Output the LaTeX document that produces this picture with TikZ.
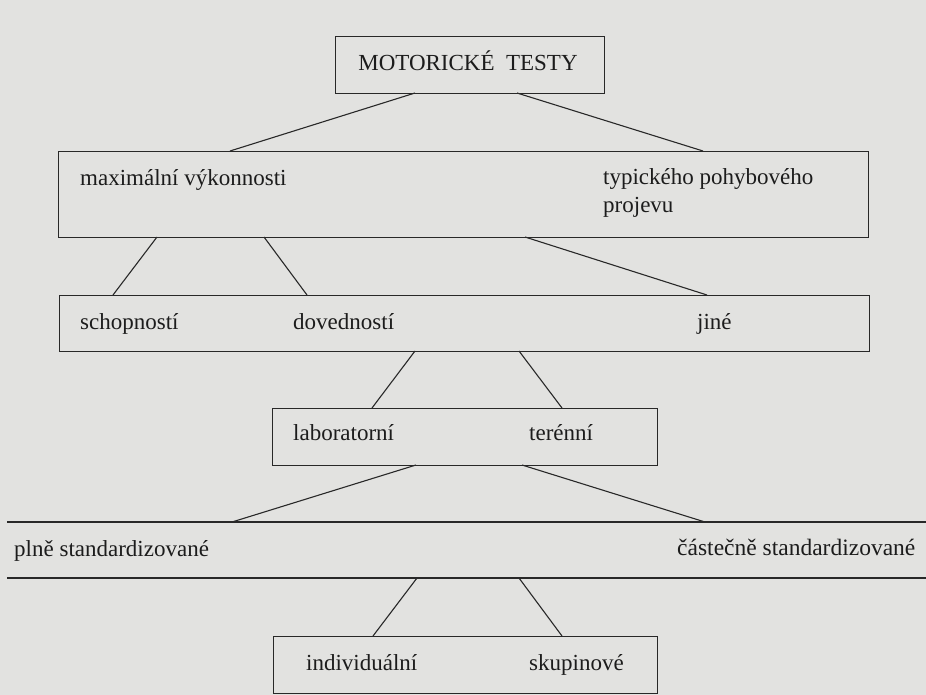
\documentclass[tikz,border=0pt]{standalone}
\usepackage{fontspec}
\setmainfont{Liberation Serif}
\definecolor{paper}{RGB}{226,226,224}
\definecolor{ink}{RGB}{40,40,40}
\definecolor{type}{RGB}{28,28,28}
\begin{document}
\begin{tikzpicture}[x=1pt,y=-1pt,
  box/.style={draw=ink, line width=1.1pt, inner sep=0pt, anchor=north west},
  link/.style={draw=ink, line width=1.1pt},
  lbl/.style={anchor=base west, inner sep=0pt, text=type, font=\fontsize{23}{27}\selectfont},
]
% sheet
\fill[paper] (0,0) rectangle (926,695);
\useasboundingbox (0,0) rectangle (926,695);

% boxes
\node[box, minimum width=269pt, minimum height=57pt] (top) at (335,36) {};
\node[box, minimum width=810pt, minimum height=86pt] (kind) at (58,151) {};
\node[box, minimum width=810pt, minimum height=56pt] (what) at (59,295) {};
\node[box, minimum width=385pt, minimum height=57pt] (place) at (272,408) {};
\node[box, minimum width=384pt, minimum height=57pt] (mode) at (273,636) {};

% open band: standardisation
\coordinate (bandTL) at (7,522);
\coordinate (bandTR) at (926,522);
\coordinate (bandBL) at (7,578);
\coordinate (bandBR) at (926,578);
\draw[link] (bandTL) -- (bandTR);
\draw[link] (bandBL) -- (bandBR);

% labels
\node[lbl, anchor=base, font=\fontsize{23}{27}\selectfont] (tl) at (468,71) {MOTORICKÉ\ \ TESTY};
\node[lbl] (l1) at (80,186) {maximální výkonnosti};
\node[lbl] (l2) at (603,185) {typického pohybového};
\node[lbl] (l3) at (603,213) {projevu};
\node[lbl] (l4) at (80,329) {schopností};
\node[lbl] (l5) at (293,329) {dovedností};
\node[lbl] (l6) at (697,329) {jiné};
\node[lbl] (l7) at (293,440) {laboratorní};
\node[lbl] (l8) at (529,440) {terénní};
\node[lbl] (l9) at (14,556) {plně standardizované};
\node[lbl, font=\fontsize{23.5}{27}\selectfont] (l10) at (677,555) {částečně standardizované};
\node[lbl] (l11) at (306,670) {individuální};
\node[lbl] (l12) at (529,670) {skupinové};

% connector end points on the box edges
\coordinate (a1) at (415,93);  \coordinate (b1) at (230,151);
\coordinate (a2) at (517,93);  \coordinate (b2) at (703,151);
\coordinate (a3) at (157,237); \coordinate (b3) at (113,295);
\coordinate (a4) at (264,237); \coordinate (b4) at (307,295);
\coordinate (a5) at (525,237); \coordinate (b5) at (707,295);
\coordinate (a6) at (415,351); \coordinate (b6) at (372,408);
\coordinate (a7) at (519,351); \coordinate (b7) at (562,408);
\coordinate (a8) at (416,465); \coordinate (b8) at (232,522);
\coordinate (a9) at (522,465); \coordinate (b9) at (705,522);
\coordinate (a10) at (417,578); \coordinate (b10) at (373,636);
\coordinate (a11) at (519,578); \coordinate (b11) at (562,636);

\foreach \i in {1,...,11} \draw[link] (a\i) -- (b\i);
\end{tikzpicture}
\end{document}
